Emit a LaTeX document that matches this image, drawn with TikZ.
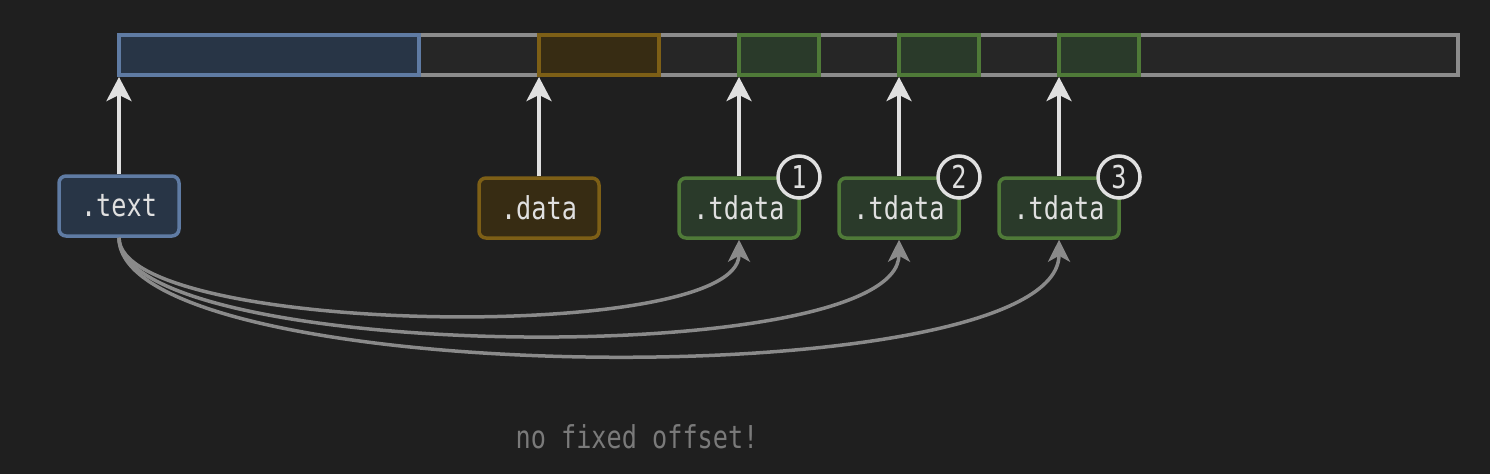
\documentclass[tikz,border=0pt]{standalone}
\usepackage{fontspec}
\setmonofont[FakeStretch=0.8]{DejaVu Sans Mono}
\usetikzlibrary{arrows.meta}
\definecolor{bg}{HTML}{1F1F1F}
\definecolor{barfill}{HTML}{262626}
\definecolor{barline}{HTML}{8C8C8C}
\definecolor{bluefill}{HTML}{283546}
\definecolor{blueline}{HTML}{5F7BA3}
\definecolor{yelfill}{HTML}{372C13}
\definecolor{yelline}{HTML}{7D5F16}
\definecolor{grnfill}{HTML}{2A3A2A}
\definecolor{grnline}{HTML}{4F7A38}
\definecolor{fg}{HTML}{E0E0E0}
\definecolor{curve}{HTML}{8A8A8A}
\definecolor{note}{HTML}{7A7A7A}
\begin{document}
\begin{tikzpicture}[x=1pt,y=-1pt,
  seg/.style={line width=3.5pt},
  sec/.style={rounded corners=7pt,line width=3.5pt,minimum width=120pt,minimum height=60pt,
    inner sep=0pt,text=fg,font=\ttfamily\fontsize{31.5}{31.5}\selectfont},
  bluesec/.style={sec,draw=blueline,fill=bluefill},
  yelsec/.style={sec,draw=yelline,fill=yelfill},
  grnsec/.style={sec,draw=grnline,fill=grnfill},
  up/.style={draw=fg,line width=3.5pt,-{Stealth[length=24pt,width=25pt,inset=6pt]}},
  link/.style={draw=curve,line width=3.5pt,-{Stealth[length=22pt,width=22pt,inset=6pt]}},
  num/.style={circle,draw=fg,fill=bg,line width=3.5pt,minimum size=42pt,inner sep=0pt,
    text=fg,font=\ttfamily\fontsize{31.5}{31.5}\selectfont},
  note/.style={text=note,font=\ttfamily\fontsize{31.5}{31.5}\selectfont}
]
\fill[bg] (0,0) rectangle (1490,474);
\useasboundingbox (0,0) rectangle (1490,474);
% memory bar
\draw[seg,draw=barline,fill=barfill] (119,35) rectangle (1458,75);
\draw[seg,draw=blueline,fill=bluefill] (119,35) rectangle (419,75);
\draw[seg,draw=yelline,fill=yelfill] (539,35) rectangle (659,75);
\draw[seg,draw=grnline,fill=grnfill] (739,35) rectangle (819,75);
\draw[seg,draw=grnline,fill=grnfill] (899,35) rectangle (979,75);
\draw[seg,draw=grnline,fill=grnfill] (1059,35) rectangle (1139,75);
\coordinate (pt) at (119,77);
\coordinate (pd) at (539,77);
\coordinate (p1) at (739,77);
\coordinate (p2) at (899,77);
\coordinate (p3) at (1059,77);
% section nodes
\node[bluesec] (text) at (119,206) {.text};
\node[yelsec] (data) at (539,208) {.data};
\node[grnsec] (td1) at (739,208) {.tdata};
\node[grnsec] (td2) at (899,208) {.tdata};
\node[grnsec] (td3) at (1059,208) {.tdata};
\draw[up] (text.north) -- (pt);
\draw[up] (data.north) -- (pd);
\draw[up] (td1.north) -- (p1);
\draw[up] (td2.north) -- (p2);
\draw[up] (td3.north) -- (p3);
\node[num] (n1) at (799,177) {1};
\node[num] (n2) at (959,177) {2};
\node[num] (n3) at (1119,177) {3};
% links
\draw[link] (text.south) .. controls (119,335) and (739,345) .. (td1.south);
\draw[link] (text.south) .. controls (119,362) and (899,372) .. (td2.south);
\draw[link] (text.south) .. controls (119,389) and (1059,399) .. (td3.south);
\node[note] (caption) at (637,437) {no fixed offset!};
\end{tikzpicture}
\end{document}
